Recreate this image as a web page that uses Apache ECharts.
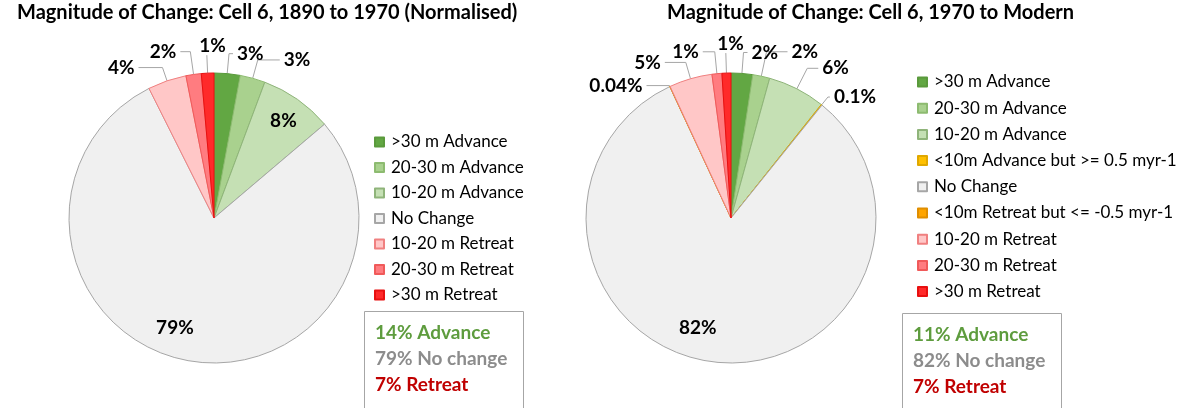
<!DOCTYPE html>
<html>
<head>
<meta charset="utf-8">
<title>Magnitude of Change: Cell 6</title>
<script src="https://cdn.jsdelivr.net/npm/echarts@6/dist/echarts.min.js"></script>
<style>
  html, body { margin: 0; padding: 0; background: #fff; }
  #chart { width: 1192px; height: 408px; }
</style>
</head>
<body>
<div id="chart"></div>
<script>
// values are percent of shoreline in each class
var leftNames = ['>30 m Advance', '20-30 m Advance', '10-20 m Advance', 'No Change', '10-20 m Retreat', '20-30 m Retreat', '>30 m Retreat'];
var leftValues = [2.9, 2.8, 8.1, 78.8, 4.3, 1.7, 1.4];

var rightNames = ['>30 m Advance', '20-30 m Advance', '10-20 m Advance', '<10m Advance but >= 0.5 myr-1', 'No Change',
  '<10m Retreat but <= -0.5 myr-1', '10-20 m Retreat', '20-30 m Retreat', '>30 m Retreat'];
var rightValues = [2.4, 1.9, 6.4, 0.1, 82.26, 0.04, 4.8, 1.1, 1.0];

var classColors = {
  '>30 m Advance': ['#62a743', '#5a9a3c'],
  '20-30 m Advance': ['#a9d18e', '#8dbb70'],
  '10-20 m Advance': ['#c5e0b4', '#8fb47a'],
  '<10m Advance but >= 0.5 myr-1': ['#ffc000', '#e0a800'],
  'No Change': ['#f0f0f0', '#a6a6a6'],
  '<10m Retreat but <= -0.5 myr-1': ['#ffa500', '#e08e00'],
  '10-20 m Retreat': ['#ffc7c7', '#f08080'],
  '20-30 m Retreat': ['#ff7c80', '#f05a5a'],
  '>30 m Retreat': ['#ff2a2a', '#e81010']
};

function groupOf(name) {
  if (name.indexOf('Advance') >= 0) return 'adv';
  if (name.indexOf('Retreat') >= 0) return 'ret';
  return 'none';
}

var FONT = 'Lato, "Open Sans", sans-serif';

function pctText(v) {
  return v >= 1 ? Math.round(v) + '%' : v + '%';
}

// label placement, roughly as the spreadsheet laid them out
var labelPlace = {
  left: {
    '>30 m Advance': { len: 20, len2: 4 },
    '20-30 m Advance': { len: 19, len2: 22 },
    '10-20 m Advance': { inside: [26, -35] },
    'No Change': { inside: [-24, 36] },
    '10-20 m Retreat': { len: 14, len2: 24 },
    '20-30 m Retreat': { len: 23, len2: 10 },
    '>30 m Retreat': { len: 18, len2: 0, offset: [23, -9] }
  },
  right: {
    '>30 m Advance': { len: 21, len2: 4 },
    '20-30 m Advance': { len: 25, len2: 21 },
    '10-20 m Advance': { len: 23, len2: 11 },
    '<10m Advance but >= 0.5 myr-1': { len: 10, len2: 2 },
    'No Change': { inside: [-24, 35] },
    '<10m Retreat but <= -0.5 myr-1': { len: 1, len2: 23 },
    '10-20 m Retreat': { len: 17, len2: 21 },
    '20-30 m Retreat': { len: 22, len2: 12 },
    '>30 m Retreat': { len: 20, len2: 0, offset: [22, -9] }
  }
};

function buildData(names, values, side) {
  return names.map(function (n, i) {
    var item = {
      name: n,
      value: values[i],
      itemStyle: { color: classColors[n][0], borderColor: classColors[n][1], borderWidth: 1 }
    };
    var pl = labelPlace[side][n];
    if (pl.inside) {
      item.label = { position: 'inside', offset: pl.inside };
      item.labelLine = { show: false };
    } else {
      item.labelLine = { length: pl.len, length2: pl.len2 };
      if (pl.offset) item.label = { offset: pl.offset };
    }
    return item;
  });
}

function summary(names, values) {
  var s = { adv: 0, none: 0, ret: 0 };
  names.forEach(function (n, i) { s[groupOf(n)] += values[i]; });
  return '{g|' + Math.round(s.adv) + '% Advance}\n{n|' + Math.round(s.none) + '% No change}\n{r|' + Math.round(s.ret) + '% Retreat}';
}

var summaryRich = {
  g: { color: '#5e9c3e', fontSize: 19, fontWeight: 'bold', fontFamily: FONT, lineHeight: 26 },
  n: { color: '#8c8c8c', fontSize: 19, fontWeight: 'bold', fontFamily: FONT, lineHeight: 26 },
  r: { color: '#c00000', fontSize: 19, fontWeight: 'bold', fontFamily: FONT, lineHeight: 26 }
};

function pieSeries(names, values, side, center) {
  return {
    type: 'pie',
    center: center,
    radius: 145,
    startAngle: 90,
    clockwise: true,
    animation: false,
    avoidLabelOverlap: false,
    data: buildData(names, values, side),
    label: {
      show: true,
      formatter: function (p) { return pctText(p.value); },
      color: '#000',
      fontSize: 19,
      fontWeight: 'bold',
      fontFamily: FONT,
      distanceToLabelLine: 4
    },
    labelLine: {
      show: true,
      lineStyle: { color: '#a6a6a6', width: 1 }
    },
    emphasis: { disabled: true }
  };
}

var chart = echarts.init(document.getElementById('chart'));
chart.setOption({
  backgroundColor: '#fff',
  title: [
    {
      text: 'Magnitude of Change: Cell 6, 1890 to 1970 (Normalised)',
      left: 17, top: 3, padding: 0,
      textStyle: { fontSize: 20, fontWeight: 'bold', fontFamily: FONT, color: '#000' }
    },
    {
      text: 'Magnitude of Change: Cell 6, 1970 to Modern',
      left: 667, top: 3, padding: 0,
      textStyle: { fontSize: 20, fontWeight: 'bold', fontFamily: FONT, color: '#000' }
    },
    {
      text: summary(leftNames, leftValues),
      left: 364, top: 308, padding: [12, 16, 20, 11],
      borderColor: '#a6a6a6', borderWidth: 1,
      textStyle: { rich: summaryRich }
    },
    {
      text: summary(rightNames, rightValues),
      left: 902, top: 310, padding: [12, 16, 20, 11],
      borderColor: '#a6a6a6', borderWidth: 1,
      textStyle: { rich: summaryRich }
    }
  ],
  legend: [
    {
      data: leftNames,
      orient: 'vertical',
      left: 369, top: 128,
      icon: 'rect', itemWidth: 9, itemHeight: 9, itemGap: 7.5,
      selectedMode: false,
      textStyle: { fontSize: 17, fontFamily: FONT, color: '#000', lineHeight: 18, padding: [0, 0, 0, 2] }
    },
    {
      data: rightNames,
      orient: 'vertical',
      left: 912, top: 68,
      icon: 'rect', itemWidth: 9, itemHeight: 9, itemGap: 8.2,
      selectedMode: false,
      textStyle: { fontSize: 17, fontFamily: FONT, color: '#000', lineHeight: 18, padding: [0, 0, 0, 2] }
    }
  ],
  series: [
    pieSeries(leftNames, leftValues, 'left', [214, 218]),
    pieSeries(rightNames, rightValues, 'right', [731, 218])
  ]
});
</script>
</body>
</html>
